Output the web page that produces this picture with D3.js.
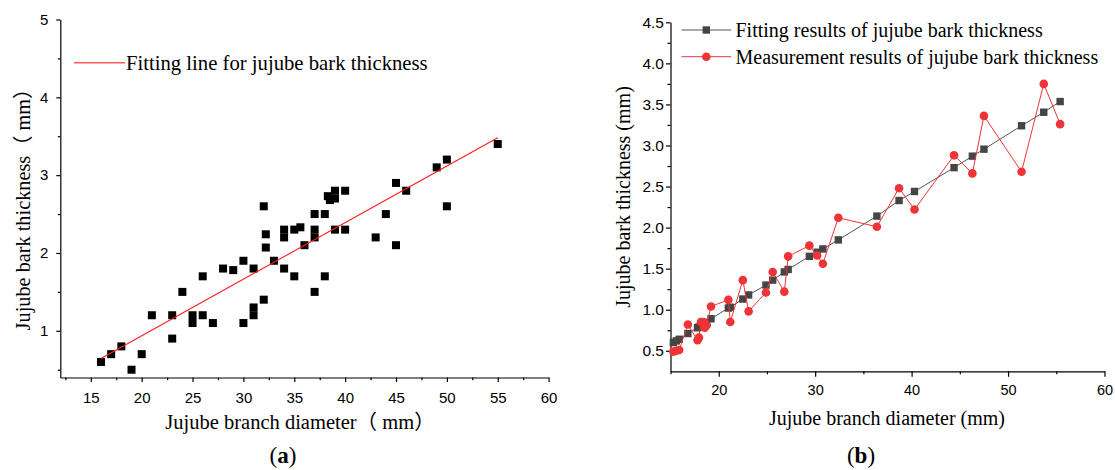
<!DOCTYPE html>
<html><head><meta charset="utf-8">
<script src="https://cdn.jsdelivr.net/npm/d3@7"></script>
<style>
body{margin:0;background:#fff}
svg{display:block}
.serif{font-family:"Liberation Serif","Times New Roman","Noto Sans CJK SC",serif;fill:#000}
.ax text{font-family:"Liberation Sans",Arial,sans-serif;fill:#000}
</style></head><body>
<svg id="c" width="1115" height="470"></svg>
<script>
// ---------- Panel (a): scatter + fitting line ----------
const aDiameter  = [16,17,18,19,20,21,23,23,24,25,25,26,26,27,28,29,30,30,31,31,31,32,32,32.2,32.2,33,34,34,34,35,35,35.6,36,37,37,37,37,38,38,38.3,38.5,39,39,39,40,40,43,44,45,45,46,49,50,50,55];
const aThickness = [0.6,0.7,0.8,0.5,0.7,1.2,1.2,0.9,1.5,1.2,1.1,1.7,1.2,1.1,1.8,1.78,1.9,1.1,1.8,1.3,1.2,2.6,1.4,2.24,2.07,1.9,2.3,2.2,1.8,2.3,1.7,2.33,2.1,2.5,2.3,2.2,1.5,2.5,1.7,2.73,2.68,2.8,2.7,2.3,2.8,2.3,2.2,2.5,2.9,2.1,2.8,3.1,3.2,2.6,3.4];
const aFitX = [16, 55];
const aFitY = [0.645, 3.48];
const aXTicks = [15,20,25,30,35,40,45,50,55,60];
const aXMinor = [12.5,17.5,22.5,27.5,32.5,37.5,42.5,47.5,52.5,57.5];
const aYTicks = [1,2,3,4,5];
const aYMinor = [0.5,1.5,2.5,3.5,4.5];

// ---------- Panel (b): fitted vs measured ----------
const bDiameter = [15.3,15.6,15.9,16.8,17.8,17.95,18.15,18.4,18.55,18.75,19.2,21.0,21.2,22.5,23.1,24.9,25.6,26.8,27.2,29.4,30.2,30.8,32.4,36.4,38.7,40.3,44.4,46.3,47.5,51.4,53.7,55.4];
const bFitted   = [0.60,0.62,0.64,0.71,0.78,0.79,0.80,0.82,0.83,0.845,0.89,1.02,1.03,1.13,1.18,1.30,1.36,1.46,1.49,1.65,1.70,1.74,1.85,2.14,2.33,2.44,2.73,2.87,2.955,3.24,3.405,3.535];
const bMeasured = [0.49,0.50,0.51,0.82,0.63,0.66,0.85,0.85,0.78,0.81,1.04,1.12,0.85,1.36,0.98,1.21,1.46,1.22,1.65,1.78,1.66,1.56,2.12,2.01,2.48,2.22,2.88,2.66,3.36,2.68,3.75,3.26];
const bXTicks = [20,30,40,50,60];
const bXMinor = [15,25,35,45,55];
const bYTicks = [0.5,1.0,1.5,2.0,2.5,3.0,3.5,4.0,4.5];
const bYMinor = [0.75,1.25,1.75,2.25,2.75,3.25,3.75,4.25];

const svg = d3.select("#c");

function styleAxis(g, fs){
  g.attr("class","ax").attr("font-size",fs);
  g.selectAll("path,line").attr("stroke","#000").attr("stroke-width",1.2);
}

// ===== Panel A =====
const xA = d3.scaleLinear().domain([12,60]).range([60.3,548.6]);
const yA = d3.scaleLinear().domain([0.4,5]).range([377.5,19.5]);

svg.append("g").attr("transform","translate(0,377.5)")
  .call(d3.axisBottom(xA).tickValues(aXTicks).tickSize(4.5).tickSizeOuter(0).tickPadding(10).tickFormat(d3.format("d")))
  .call(g=>styleAxis(g,15));
svg.append("g").attr("transform","translate(0,377.5)")
  .call(d3.axisBottom(xA).tickValues(aXMinor).tickSize(2.7).tickFormat(""))
  .call(g=>{g.select(".domain").remove(); styleAxis(g,15);});
svg.append("g").attr("transform","translate(60.3,0)")
  .call(d3.axisLeft(yA).tickValues(aYTicks).tickSize(4).tickSizeOuter(0).tickPadding(8).tickFormat(d3.format("d")))
  .call(g=>styleAxis(g,15));
svg.append("g").attr("transform","translate(60.3,0)")
  .call(d3.axisLeft(yA).tickValues(aYMinor).tickSize(2.5).tickFormat(""))
  .call(g=>{g.select(".domain").remove(); styleAxis(g,15);});

const aPts = aDiameter.map((d,i)=>({x:d,y:aThickness[i]}));
svg.append("g").selectAll("rect").data(aPts).join("rect")
  .attr("x",d=>xA(d.x)-4).attr("y",d=>yA(d.y)-4)
  .attr("width",8).attr("height",8).attr("fill","#000");

svg.append("path")
  .datum(aFitX.map((d,i)=>({x:d,y:aFitY[i]})))
  .attr("d",d3.line().x(d=>xA(d.x)).y(d=>yA(d.y)))
  .attr("fill","none").attr("stroke","#ff1a1a").attr("stroke-width",1.1);

// legend A
svg.append("line").attr("x1",74).attr("x2",125).attr("y1",62.7).attr("y2",62.7)
  .attr("stroke","#ff5a5a").attr("stroke-width",1.4);
svg.append("text").attr("class","serif").attr("x",126).attr("y",62.7).attr("dy","0.35em")
  .attr("font-size",20.7).text("Fitting line for jujube bark thickness");

// titles A
svg.append("text").attr("class","serif").attr("x",300).attr("y",421.7).attr("dy","0.35em")
  .attr("text-anchor","middle").attr("font-size",20.5).text("Jujube branch diameter（ mm）");
svg.append("text").attr("class","serif").attr("transform","translate(23,204.5) rotate(-90)")
  .attr("dy","0.35em").attr("text-anchor","middle").attr("font-size",20.3).text("Jujube bark thickness（ mm）");
svg.append("text").attr("class","serif").attr("x",283).attr("y",455).attr("dy","0.35em")
  .attr("text-anchor","middle").attr("font-size",23)
  .call(t=>{t.append("tspan").text("("); t.append("tspan").attr("font-weight","bold").text("a"); t.append("tspan").text(")");});

// ===== Panel B =====
const xB = d3.scaleLinear().domain([15,60]).range([670.5,1104.5]);
const yB = d3.scaleLinear().domain([0.25,4.5]).range([371.3,22.3]);

svg.append("g").attr("transform","translate(0,371.3)")
  .call(d3.axisBottom(xB).tickValues(bXTicks).tickSize(5.5).tickSizeOuter(0).tickPadding(8).tickFormat(d3.format("d")))
  .call(g=>styleAxis(g,14.5));
svg.append("g").attr("transform","translate(0,371.3)")
  .call(d3.axisBottom(xB).tickValues(bXMinor).tickSize(3).tickFormat(""))
  .call(g=>{g.select(".domain").remove(); styleAxis(g,14);});
svg.append("g").attr("transform","translate(670.5,0)")
  .call(d3.axisLeft(yB).tickValues(bYTicks).tickSize(4.5).tickSizeOuter(0).tickPadding(2).tickFormat(d3.format(".1f")))
  .call(g=>styleAxis(g,15.5));
svg.append("g").attr("transform","translate(670.5,0)")
  .call(d3.axisLeft(yB).tickValues(bYMinor).tickSize(3).tickFormat(""))
  .call(g=>{g.select(".domain").remove(); styleAxis(g,14);});

const bFitPts = bDiameter.map((d,i)=>({x:d,y:bFitted[i]}));
const bMeasPts = bDiameter.map((d,i)=>({x:d,y:bMeasured[i]}));
const lineB = d3.line().x(d=>xB(d.x)).y(d=>yB(d.y));
const grey = "#454545", red = "#ee3437";

svg.append("path").datum(bFitPts).attr("d",lineB).attr("fill","none").attr("stroke","#555").attr("stroke-width",1);
svg.append("g").selectAll("rect").data(bFitPts).join("rect")
  .attr("x",d=>xB(d.x)-3.7).attr("y",d=>yB(d.y)-3.7).attr("width",7.4).attr("height",7.4).attr("fill",grey);
svg.append("path").datum(bMeasPts).attr("d",lineB).attr("fill","none").attr("stroke",red).attr("stroke-width",1);
svg.append("g").selectAll("circle").data(bMeasPts).join("circle")
  .attr("cx",d=>xB(d.x)).attr("cy",d=>yB(d.y)).attr("r",4.3).attr("fill",red);

// legend B
const legB = [
  {label:"Fitting results of jujube bark thickness", color:"#555", mk:grey, shape:"square", y:30},
  {label:"Measurement results of jujube bark thickness", color:red, mk:red, shape:"circle", y:56.7}
];
legB.forEach(l=>{
  svg.append("line").attr("x1",681.5).attr("x2",731.2).attr("y1",l.y).attr("y2",l.y).attr("stroke",l.color).attr("stroke-width",1);
  if(l.shape==="square") svg.append("rect").attr("x",706.3-3.7).attr("y",l.y-3.7).attr("width",7.4).attr("height",7.4).attr("fill",l.mk);
  else svg.append("circle").attr("cx",706.3).attr("cy",l.y).attr("r",4.3).attr("fill",l.mk);
  svg.append("text").attr("class","serif").attr("x",735.5).attr("y",l.y).attr("dy","0.35em").attr("font-size",20).text(l.label);
});

// titles B
svg.append("text").attr("class","serif").attr("x",887).attr("y",417.7).attr("dy","0.35em")
  .attr("text-anchor","middle").attr("font-size",20).text("Jujube branch diameter (mm)");
svg.append("text").attr("class","serif").attr("transform","translate(623,197) rotate(-90)")
  .attr("dy","0.35em").attr("text-anchor","middle").attr("font-size",20).text("Jujube bark thickness (mm)");
svg.append("text").attr("class","serif").attr("x",861).attr("y",455).attr("dy","0.35em")
  .attr("text-anchor","middle").attr("font-size",23)
  .call(t=>{t.append("tspan").text("("); t.append("tspan").attr("font-weight","bold").text("b"); t.append("tspan").text(")");});
</script>
</body></html>
